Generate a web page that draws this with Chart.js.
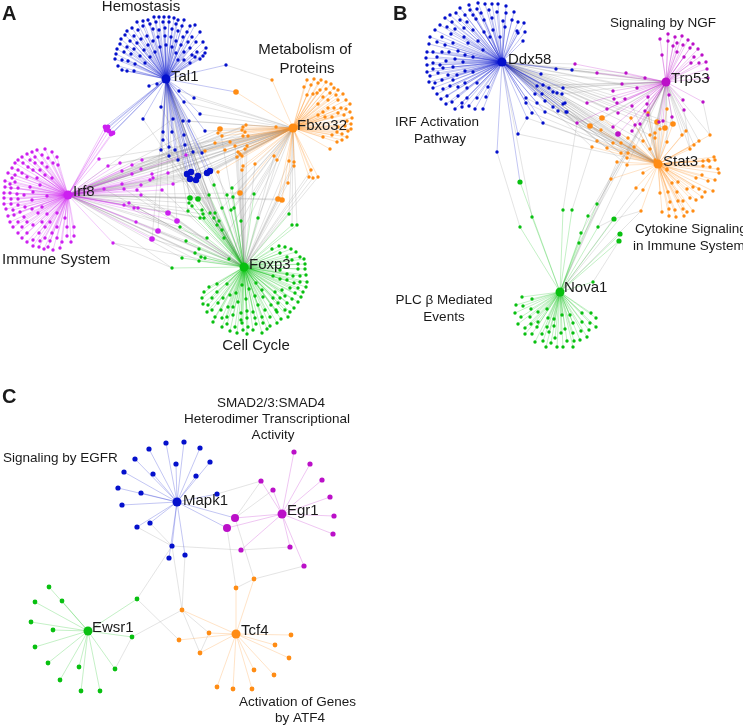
<!DOCTYPE html>
<html>
<head>
<meta charset="utf-8">
<script src="https://cdn.jsdelivr.net/npm/chart.js@4"></script>
<style>
  html, body { margin: 0; padding: 0; background: #fff; }
  #wrap { width: 743px; height: 727px; }
</style>
</head>
<body>
<div id="wrap"><canvas id="network"></canvas></div>
<script>
// Panel A hubs
const tal1 = [166, 79], irf8 = [68, 195], fbxo32 = [293, 128], foxp3 = [244, 267];
// Panel B hubs
const ddx58 = [502, 62], trp53 = [666, 82], stat3 = [658, 164], nova1 = [560, 292];
// Panel C hubs
const mapk1 = [177, 502], egr1 = [282, 514], ewsr1 = [88, 631], tcf4 = [236, 634];

// Panel A nodes
const talFan = [[115,59],[116,54],[117,49],[120,44],[121,39],[125,35],[127,31],[132,28],[137,22],[143,21],[148,20],[154,17],[159,17],[164,17],[169,17],[174,18],[178,20],[184,20],[190,26],[195,25],[200,32],[203,42],[206,48],[205,53],[203,56],[200,59],[118,66],[122,70],[127,71],[134,71],[122,60],[124,52],[127,47],[130,41],[134,36],[138,30],[143,26],[150,24],[156,22],[163,22],[169,22],[176,24],[182,26],[187,32],[192,37],[196,42],[197,52],[195,57],[128,61],[131,54],[134,49],[137,43],[141,39],[147,36],[153,29],[159,30],[165,28],[172,29],[178,31],[183,37],[188,42],[190,48],[192,55],[190,63],[135,64],[140,56],[144,50],[148,45],[153,41],[158,37],[165,36],[171,37],[176,41],[181,45],[184,52],[184,60],[145,63],[150,57],[155,52],[160,47],[166,45],[172,47],[176,53],[178,60],[149,86],[157,84]];
const talFox = [[161,107],[143,119],[163,132],[172,132],[163,140],[169,147],[161,150],[169,156],[175,150]];
const talIrf = [[173,119],[178,160],[185,145],[184,135]];
const talFbx = [[179,91],[184,102],[194,98],[183,121],[189,121],[200,114],[205,131],[193,152],[202,153]];
const talBig = [[187,174],[191,172],[198,176],[190,179],[196,180],[207,173],[210,171]];
const talIrfCluster = [[105,127],[108,127],[106,130],[109,131],[113,133],[111,134]];
const talLink = [[226,65]];
const fbxLinkSmall = [[272,80]];
const fbxLinkBig = [[236,92]];

const irfFan = [[45,149],[37,150],[32,152],[52,152],[27,154],[57,157],[22,157],[42,155],[35,157],[48,158],[18,160],[30,160],[15,163],[23,163],[12,168],[42,163],[53,163],[35,163],[28,167],[18,170],[47,167],[8,173],[15,175],[22,173],[33,170],[40,170],[58,165],[27,177],[12,178],[37,178],[52,178],[45,175],[5,181],[10,184],[15,182],[5,187],[11,188],[18,188],[30,187],[40,185],[4,193],[10,193],[17,194],[24,195],[33,192],[4,198],[11,199],[18,199],[32,200],[47,196],[4,204],[11,204],[18,205],[25,207],[42,207],[6,209],[13,210],[20,212],[32,209],[8,216],[14,215],[24,217],[38,213],[47,214],[57,213],[10,222],[18,222],[27,222],[42,222],[50,222],[65,218],[13,227],[22,227],[33,225],[45,227],[57,227],[18,233],[27,233],[39,233],[52,233],[67,227],[74,227],[22,238],[33,240],[45,238],[57,238],[67,236],[74,236],[27,242],[40,241],[50,241],[62,242],[71,242],[33,246],[39,247],[44,249],[48,247],[53,250],[60,248]];
const irfFbx = [[99,159],[108,166],[120,163],[122,171],[132,165],[142,160],[141,169],[132,174],[150,180],[153,178],[152,174],[168,173],[186,155],[122,184],[141,185],[173,184]];
const irfFox = [[104,189],[124,189],[137,190],[141,195],[162,190],[129,203],[124,205],[134,208],[138,208],[136,222],[113,243]];
const irfBig = [[168,213],[158,231],[152,239],[177,221]];

const fbxFan = [[307,80],[314,79],[321,80],[326,82],[331,84],[334,88],[338,90],[343,94],[346,100],[350,104],[350,112],[352,118],[351,124],[351,129],[348,131],[347,137],[342,134],[342,140],[337,142],[330,149],[304,87],[311,85],[318,83],[320,90],[326,89],[330,93],[336,95],[338,100],[317,93],[313,94],[307,95],[323,97],[328,100],[318,104],[323,112],[328,108],[334,108],[341,108],[346,109],[344,115],[338,113],[332,117],[325,117],[318,115],[347,121],[345,126],[338,127],[337,132],[332,135],[323,137],[276,127]];
const fbxIrf = [[246,125],[243,127],[242,130],[245,132],[248,136],[243,136],[218,133],[222,136],[215,143],[230,142],[205,151],[225,150]];
const fbxFox = [[235,146],[247,146],[245,149],[238,152],[240,154],[237,157],[242,156],[218,172],[243,166],[242,170],[255,164],[274,156],[277,160],[289,161],[294,162],[294,166],[311,170],[318,177],[309,177],[313,178],[288,183]];
const fbxBig = [[220,129],[240,193],[278,199],[282,200]];

const foxFan = [[279,246],[285,247],[291,249],[296,252],[300,257],[304,259],[305,264],[305,269],[306,275],[307,282],[306,287],[303,292],[301,297],[298,302],[294,308],[290,312],[288,317],[281,319],[277,323],[270,326],[267,329],[262,333],[253,330],[247,334],[243,330],[237,333],[230,331],[222,327],[213,322],[207,312],[203,304],[202,298],[204,292],[209,287],[217,284],[272,249],[280,253],[287,257],[292,260],[298,264],[298,269],[300,276],[300,282],[298,288],[295,293],[292,299],[287,303],[285,310],[277,312],[270,317],[263,323],[256,324],[248,327],[242,323],[235,327],[227,324],[222,318],[215,317],[212,310],[208,305],[212,298],[217,292],[227,284],[280,270],[287,274],[293,276],[273,276],[280,279],[287,280],[294,283],[290,288],[282,290],[275,292],[285,296],[280,298],[273,298],[278,303],[271,305],[276,310],[265,310],[258,305],[253,312],[247,311],[241,313],[233,315],[227,317],[221,310],[218,303],[223,298],[230,295],[236,293],[242,285],[249,289],[256,283],[262,290],[255,296],[263,297],[246,299],[238,302],[233,307],[228,307],[262,317],[255,318],[247,318],[241,320]];
const foxTal = [[214,185],[209,195],[227,195],[210,213],[215,213],[214,218],[219,221],[217,225],[222,230],[192,206],[188,211]];
const foxIrf = [[189,203],[180,227],[186,241],[182,258],[199,249],[195,253],[201,257],[199,261],[202,210],[203,214],[200,218],[204,218],[207,238],[205,258],[172,268]];
const foxFbx = [[232,188],[233,197],[254,194],[231,210],[234,208],[241,221],[258,218],[289,214],[292,225],[297,225],[222,208],[229,259],[224,238]];
const foxBig = [[190,198],[198,199]];

// Panel B nodes
const ddxFan = [[478,3],[485,4],[492,4],[498,4],[506,6],[469,5],[460,8],[470,10],[477,9],[450,15],[456,13],[465,15],[473,15],[481,13],[489,10],[497,12],[506,13],[514,12],[445,18],[460,20],[452,22],[440,25],[467,22],[476,19],[484,20],[492,18],[503,21],[512,20],[518,22],[524,23],[435,30],[447,27],[455,29],[464,28],[473,30],[484,32],[493,30],[505,27],[517,31],[525,32],[430,37],[442,37],[451,34],[464,37],[478,41],[490,37],[500,37],[518,33],[523,41],[429,44],[437,42],[445,45],[453,43],[468,43],[483,50],[427,52],[433,52],[442,52],[449,52],[458,51],[426,58],[437,57],[446,61],[455,59],[465,55],[473,57],[427,65],[433,63],[440,65],[453,67],[463,62],[427,72],[433,69],[443,68],[457,75],[473,72],[430,76],[438,73],[448,75],[465,71],[429,82],[435,83],[442,80],[453,80],[465,83],[477,83],[433,88],[443,89],[450,86],[458,87],[467,88],[488,87],[437,94],[447,96],[458,96],[467,98],[477,98],[486,97],[441,99],[452,102],[462,103],[446,104],[469,106],[475,109],[483,109],[455,109],[462,107],[497,152]];
const ddxTrp = [[556,69],[572,70],[541,74],[563,88],[562,94],[549,88],[543,85],[537,86]];
const ddxStat = [[563,104],[553,92],[557,93],[535,94],[542,94],[526,98],[545,101],[553,107],[565,103],[526,103],[532,113],[545,112],[527,118],[543,123],[518,134],[537,103],[567,112],[558,111],[566,112]];

const trpFan = [[668,34],[660,39],[675,37],[682,36],[688,40],[668,41],[677,43],[673,46],[683,45],[693,44],[690,48],[698,49],[677,52],[662,55],[684,57],[694,57],[702,55],[691,63],[699,63],[706,62],[707,69],[708,78],[703,102],[683,100],[684,110],[669,95]];
const trpDdx = [[575,64],[597,73],[626,73],[645,78],[622,84],[637,88],[613,91],[614,99],[625,99],[617,103],[587,103],[607,109],[618,113],[613,127],[577,123]];
const trpStat = [[648,97],[632,106],[647,104],[645,111],[648,115],[672,117],[663,121],[659,122],[635,125],[640,124],[632,131]];
const trpBig = [[618,134]];

const statFan = [[709,161],[715,160],[703,166],[710,167],[718,169],[696,178],[702,175],[708,181],[715,180],[719,173],[687,189],[693,187],[699,189],[705,192],[713,191],[678,182],[672,183],[667,169],[683,201],[690,198],[696,200],[702,197],[677,192],[678,201],[670,202],[668,192],[675,210],[683,209],[687,212],[693,211],[662,212],[669,209],[676,217],[684,216],[669,216],[660,193],[643,173],[714,157],[708,160],[703,161],[655,160],[667,170]];
const statDdx = [[631,118],[601,130],[597,141],[592,147],[607,148],[613,143],[621,143],[628,138],[634,147],[621,153],[628,153],[643,141],[650,135],[627,158],[627,165]];
const statTrp = [[667,109],[648,113],[660,129],[655,133],[655,138],[650,149],[667,142],[686,131],[682,135],[710,135],[699,141],[694,145],[690,149]];
const statNova = [[611,179],[636,188],[643,190],[641,211],[617,162]];
const statBig = [[602,118],[590,126],[657,122],[665,128],[673,124]];

const novaFan = [[522,297],[532,299],[516,305],[523,306],[515,313],[531,309],[538,312],[547,309],[521,317],[530,317],[548,318],[518,324],[538,322],[531,324],[554,319],[562,315],[570,315],[582,313],[591,313],[596,318],[590,323],[582,322],[573,323],[596,327],[589,330],[581,331],[573,333],[565,329],[554,326],[547,327],[525,328],[537,327],[525,334],[532,334],[542,334],[549,332],[561,333],[587,337],[580,340],[574,341],[567,341],[555,338],[543,341],[535,342],[551,343],[546,347],[557,347],[563,347],[573,347],[593,282],[520,227],[563,210],[572,210]];
const novaDdx = [[532,217]];
const novaTrp = [[588,216],[597,204],[598,227],[581,233],[579,243]];
const novaBig = [[520,182],[614,219],[620,234],[619,241]];

// Panel C nodes
const mapkLeaves = [[166,443],[184,442],[149,449],[200,448],[135,459],[210,462],[176,464],[124,472],[153,474],[196,476],[118,488],[141,493],[122,505],[137,527],[150,523],[172,546],[169,558],[185,555],[217,494]];
const egrLeaves = [[294,452],[310,464],[322,480],[330,497],[334,516],[333,534],[290,547],[304,566],[261,481],[273,490],[241,550]];
const egrBig = [[235,518],[227,528]];
const tcfLeaves = [[236,588],[254,579],[182,610],[179,640],[200,653],[209,633],[291,635],[275,645],[289,658],[254,670],[274,675],[252,689],[233,689],[217,687]];
const ewsLeaves = [[49,587],[62,601],[35,602],[31,622],[53,630],[35,647],[48,663],[79,667],[60,680],[81,691],[100,691],[115,669],[132,637],[137,599]];

// gray links between two non-hub nodes, as [from, to]
const extraLinks = [
  [[226,65],[272,80]], [[113,243],[172,268]], [[703,102],[710,135]], [[684,110],[690,149]],
  [[497,152],[520,227]], [[518,134],[527,118]], [[563,210],[577,123]], [[572,210],[592,147]],
  [[614,219],[641,211]], [[598,227],[614,219]], [[619,241],[593,282]],
  [[217,494],[261,481]], [[261,481],[235,518]], [[273,490],[235,518]], [[235,518],[254,579]],
  [[227,528],[236,588]], [[304,566],[254,579]], [[254,579],[236,588]], [[172,546],[241,550]],
  [[241,550],[290,547]], [[137,527],[172,546]], [[150,523],[172,546]], [[172,546],[137,599]],
  [[172,546],[182,610]], [[185,555],[182,610]], [[132,637],[182,610]], [[137,599],[179,640]],
  [[182,610],[200,653]], [[182,610],[209,633]], [[209,633],[200,653]], [[115,669],[132,637]]
];

const blue = '#0410cc', violet = '#cc1ff0', purple = '#bb10c8', orange = '#ff8c14', green = '#08c010', gray = 'rgba(150,150,150,0.32)';

const labelFont = '15px "Liberation Sans", Arial, sans-serif';
const smallFont = '13.5px "Liberation Sans", Arial, sans-serif';
const panelFont = 'bold 20px "Liberation Sans", Arial, sans-serif';
const texts = [
  ['A', 2, 14, panelFont, 'left'], ['B', 393, 14, panelFont, 'left'], ['C', 2, 397, panelFont, 'left'],
  ['Hemostasis', 141, 7, labelFont, 'center'], ['Metabolism of', 305, 50, labelFont, 'center'], ['Proteins', 307, 69, labelFont, 'center'],
  ['Tal1', 171, 77, labelFont, 'left'], ['Fbxo32', 297, 126, labelFont, 'left'], ['Irf8', 73, 192, labelFont, 'left'],
  ['Foxp3', 249, 265, labelFont, 'left'], ['Immune System', 2, 260, labelFont, 'left'], ['Cell Cycle', 256, 346, labelFont, 'center'],
  ['Ddx58', 508, 60, labelFont, 'left'], ['Signaling by NGF', 663, 23, smallFont, 'center'], ['Trp53', 671, 79, labelFont, 'left'],
  ['Stat3', 663, 162, labelFont, 'left'], ['IRF Activation', 437, 122, smallFont, 'center'], ['Pathway', 440, 139, smallFont, 'center'],
  ['Cytokine Signaling', 635, 229, smallFont, 'left'], ['in Immune System', 633, 246, smallFont, 'left'],
  ['PLC \u03b2 Mediated', 444, 300, smallFont, 'center'], ['Events', 444, 317, smallFont, 'center'], ['Nova1', 564, 288, labelFont, 'left'],
  ['SMAD2/3:SMAD4', 271, 403, smallFont, 'center'], ['Heterodimer Transcriptional', 267, 419, smallFont, 'center'], ['Activity', 273, 435, smallFont, 'center'],
  ['Signaling by EGFR', 3, 458, smallFont, 'left'], ['Mapk1', 183, 501, labelFont, 'left'], ['Egr1', 287, 511, labelFont, 'left'],
  ['Ewsr1', 92, 628, labelFont, 'left'], ['Tcf4', 241, 631, labelFont, 'left'], ['Activation of Genes', 239, 702, smallFont, 'left'], ['by ATF4', 300, 718, smallFont, 'center']
];

const pt = p => ({ x: p[0], y: p[1] });
const marks = [], colourEdges = [], grayEdges = [];

function tint(colour) {
  const n = parseInt(colour.slice(1), 16);
  return `rgba(${n >> 16},${(n >> 8) & 255},${n & 255},0.3)`;
}

function edge(list, a, b, colour) {
  list.push({ type: 'scatter', showLine: true, data: [pt(a), pt(b)], borderColor: colour, borderWidth: 0.8, pointRadius: 0 });
}

// hub with coloured spokes, optional gray links from other hubs
function star(hub, nodes, colour, r, otherHubs) {
  nodes.forEach(n => {
    edge(colourEdges, hub, n, tint(colour));
    (otherHubs || []).forEach(h => edge(grayEdges, h, n, gray));
  });
  addPoints(nodes, colour, r);
}

function addPoints(nodes, colour, r) {
  marks.push({ type: 'scatter', data: nodes.map(pt), backgroundColor: colour, borderWidth: 0, pointRadius: r });
}

// Panel A
star(tal1, talFan, blue, 1.7);
star(tal1, talFox, blue, 1.7, [foxp3]);
star(tal1, talIrf, blue, 1.7, [irf8]);
star(tal1, talFbx, blue, 1.7, [fbxo32]);
star(tal1, talBig, blue, 3.2, [irf8, fbxo32, foxp3]);
star(tal1, talLink, blue, 1.7);
star(tal1, fbxLinkBig, blue, 0);
star(tal1, talIrfCluster, blue, 0);
star(irf8, talIrfCluster, violet, 2.4);
star(irf8, irfFan, violet, 1.7);
star(irf8, irfFbx, violet, 1.7, [fbxo32]);
star(irf8, irfFox, violet, 1.7, [foxp3]);
star(irf8, irfBig, violet, 2.8, [foxp3, tal1]);
star(fbxo32, fbxFan, orange, 1.7);
star(fbxo32, fbxIrf, orange, 1.7, [irf8]);
star(fbxo32, fbxFox, orange, 1.7, [foxp3]);
star(fbxo32, fbxBig, orange, 2.8, [foxp3, irf8]);
star(fbxo32, fbxLinkSmall, orange, 1.7);
star(fbxo32, fbxLinkBig, orange, 2.8);
star(foxp3, foxFan, green, 1.7);
star(foxp3, foxTal, green, 1.7, [tal1]);
star(foxp3, foxIrf, green, 1.7, [irf8]);
star(foxp3, foxFbx, green, 1.7, [fbxo32]);
star(foxp3, foxBig, green, 2.8, [tal1, irf8]);

// Panel B
star(ddx58, ddxFan, blue, 1.7);
star(ddx58, ddxTrp, blue, 1.7, [trp53]);
star(ddx58, ddxStat, blue, 1.7, [stat3]);
star(trp53, trpFan, purple, 1.7);
star(trp53, trpDdx, purple, 1.7, [ddx58]);
star(trp53, trpStat, purple, 1.7, [stat3]);
star(trp53, trpBig, purple, 2.8, [ddx58, stat3]);
star(stat3, statFan, orange, 1.7);
star(stat3, statDdx, orange, 1.7, [ddx58]);
star(stat3, statTrp, orange, 1.7, [trp53]);
star(stat3, statNova, orange, 1.7, [nova1]);
star(stat3, statBig, orange, 2.8, [ddx58, trp53]);
star(nova1, novaFan, green, 1.7);
star(nova1, novaDdx, green, 1.7, [ddx58]);
star(nova1, novaTrp, green, 1.7, [trp53]);
star(nova1, novaBig, green, 2.6);
star(ddx58, [[520,182]], blue, 0);

// Panel C
star(mapk1, mapkLeaves, blue, 2.6);
star(mapk1, egrBig, blue, 0);
star(egr1, egrBig, purple, 4);
star(egr1, egrLeaves, purple, 2.6);
star(tcf4, tcfLeaves, orange, 2.4);
star(ewsr1, ewsLeaves, green, 2.4);

extraLinks.forEach(l => edge(grayEdges, l[0], l[1], gray));

addPoints([tal1, ddx58, mapk1], blue, 4.5);
addPoints([irf8], violet, 4.5);
addPoints([trp53, egr1], purple, 4.5);
addPoints([fbxo32, stat3, tcf4], orange, 4.5);
addPoints([foxp3, nova1, ewsr1], green, 4.5);

const textPlugin = {
  id: 'networkText',
  afterDraw(chart) {
    const ctx = chart.ctx, sx = chart.scales.x, sy = chart.scales.y;
    ctx.save();
    ctx.fillStyle = '#1a1a1a';
    ctx.textBaseline = 'middle';
    texts.forEach(t => {
      ctx.font = t[3];
      ctx.textAlign = t[4];
      ctx.fillText(t[0], sx.getPixelForValue(t[1]), sy.getPixelForValue(t[2]));
    });
    ctx.restore();
  }
};

new Chart(document.getElementById('network').getContext('2d'), {
  type: 'scatter',
  data: { datasets: marks.concat(colourEdges, grayEdges) },
  plugins: [textPlugin],
  options: {
    responsive: true,
    maintainAspectRatio: false,
    animation: false,
    events: [],
    layout: { padding: 0, autoPadding: false },
    plugins: { legend: { display: false }, tooltip: { enabled: false } },
    scales: {
      x: { type: 'linear', min: 0, max: 743, display: false },
      y: { type: 'linear', min: 0, max: 727, reverse: true, display: false }
    }
  }
});
</script>
</body>
</html>
